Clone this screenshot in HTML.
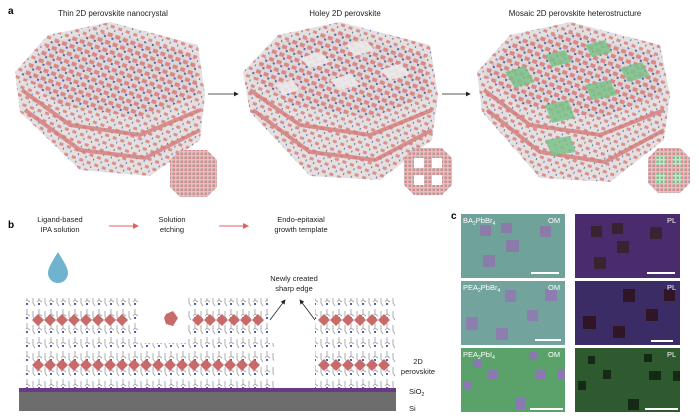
<!DOCTYPE html>
<html><head><meta charset="utf-8"><style>
html,body{margin:0;padding:0;background:#fff;}
svg{display:block;font-family:"Liberation Sans",sans-serif;}
</style></head><body>
<svg width="699" height="419" viewBox="0 0 699 419" xmlns="http://www.w3.org/2000/svg">
<defs>
<pattern id="cr" width="8" height="8" patternUnits="userSpaceOnUse" patternTransform="rotate(20)">
<rect width="8" height="8" fill="#ddd6d6"/>
<rect x="1" y="1" width="5" height="4" fill="#d98584"/>
<rect x="6" y="5" width="2" height="2" fill="#4a5ba8"/>
</pattern>
<pattern id="cr2" width="8" height="8" patternUnits="userSpaceOnUse" patternTransform="rotate(20)">
<rect width="8" height="8" fill="#e4e0e0"/>
<rect x="1" y="1" width="4" height="3" fill="#d99190"/>
<rect x="6" y="5" width="1" height="2" fill="#6270b0"/>
</pattern>
<pattern id="oct" width="4" height="4" patternUnits="userSpaceOnUse">
<rect width="4" height="4" fill="#cfc8c8"/><rect x="0.5" y="0.5" width="2.5" height="2.5" fill="#d88a8a"/>
</pattern>
<pattern id="octg" width="4" height="4" patternUnits="userSpaceOnUse">
<rect width="4" height="4" fill="#cfe0cf"/><rect x="0.5" y="0.5" width="2.5" height="2.5" fill="#7ec08a"/>
</pattern>
<pattern id="lig" width="12" height="14" patternUnits="userSpaceOnUse">
<rect width="12" height="14" fill="#fff"/>
<path d="M3 1 L3 6 L6 8 M3 6 L1 8 M9 3 L9 9 L11 12" stroke="#9a9a9a" stroke-width="0.8" fill="none"/>
<rect x="2" y="9" width="2" height="2" fill="#5060b0"/>
</pattern>
<marker id="ah" markerWidth="6" markerHeight="6" refX="5" refY="3" orient="auto"><path d="M0,0 L6,3 L0,6z" fill="#222"/></marker>
<marker id="ahr" markerWidth="6" markerHeight="6" refX="5" refY="3" orient="auto"><path d="M0,0 L6,3 L0,6z" fill="#e06060"/></marker>
</defs>

<!-- Panel a -->
<text x="8" y="14" font-size="10" font-weight="bold">a</text>
<text x="113" y="16" font-size="8" text-anchor="middle" fill="#222">Thin 2D perovskite nanocrystal</text>
<text x="345" y="16" font-size="8" text-anchor="middle" fill="#222">Holey 2D perovskite</text>
<text x="575" y="16" font-size="8" text-anchor="middle" fill="#222">Mosaic 2D perovskite heterostructure</text>

<!-- crystal 1 -->
<polygon points="15,72 48,35 110,22 198,45 205,95 200,140 150,176 80,170 20,112" fill="url(#cr2)"/>
<polygon points="22,75 50,42 110,32 195,55 198,95 140,118 60,105" fill="url(#cr)" opacity="0.9"/>
<g stroke="#d57b7a" stroke-width="4" fill="none" opacity="0.8">
<polyline points="22,90 70,125 140,135 200,110"/>
<polyline points="25,110 80,150 145,158 200,130"/>
</g>
<!-- crystal 2 -->
<polygon points="243,72 278,35 340,22 430,45 438,95 432,140 380,180 310,176 250,112" fill="url(#cr2)"/>
<polygon points="250,75 280,42 340,32 425,55 430,95 370,118 290,105" fill="url(#cr)" opacity="0.85"/>
<g stroke="#d57b7a" stroke-width="4" fill="none" opacity="0.8">
<polyline points="250,90 300,125 370,135 432,110"/>
<polyline points="253,110 310,152 375,160 432,130"/>
</g>
<g fill="#eceaea" opacity="0.9">
<polygon points="300,58 320,52 330,62 310,68"/>
<polygon points="345,45 365,40 375,50 355,56"/>
<polygon points="380,70 400,64 410,74 390,80"/>
<polygon points="330,80 350,74 360,84 340,90"/>
<polygon points="275,85 292,80 300,90 283,95"/>
</g>
<!-- crystal 3 -->
<polygon points="477,72 510,35 570,22 660,45 670,95 664,140 610,182 540,178 482,112" fill="url(#cr2)"/>
<polygon points="484,75 512,42 570,32 655,55 662,95 600,118 520,105" fill="url(#cr)" opacity="0.9"/>
<g stroke="#d57b7a" stroke-width="4" fill="none" opacity="0.8">
<polyline points="484,90 530,125 600,135 664,110"/>
<polyline points="487,110 540,152 605,162 664,130"/>
</g>
<g fill="#7cc28a" opacity="0.85">
<polygon points="585,45 605,40 612,52 592,57"/>
<polygon points="545,55 565,50 572,62 552,67"/>
<polygon points="620,68 642,62 650,76 628,82"/>
<polygon points="505,72 525,66 535,82 515,88"/>
<polygon points="585,85 610,80 617,95 592,100"/>
<polygon points="545,105 568,100 575,118 552,123"/>
<polygon points="545,140 570,136 576,152 552,156"/>
</g>
<!-- insets -->
<polygon points="180,150 207,150 217,160 217,187 207,197 180,197 170,187 170,160" fill="url(#oct)"/>
<polygon points="414,148 442,148 452,158 452,185 442,195 414,195 404,185 404,158" fill="url(#oct)"/>
<g fill="#fff"><rect x="414" y="158" width="10" height="10"/><rect x="432" y="158" width="10" height="10"/><rect x="414" y="175" width="10" height="10"/><rect x="432" y="175" width="10" height="10"/></g>
<polygon points="658,148 680,148 690,158 690,183 680,193 658,193 648,183 648,158" fill="url(#oct)"/>
<g fill="url(#octg)"><rect x="656" y="156" width="9" height="9"/><rect x="673" y="156" width="9" height="9"/><rect x="656" y="174" width="9" height="9"/><rect x="673" y="174" width="9" height="9"/></g>
<!-- arrows -->
<line x1="208" y1="94" x2="238" y2="94" stroke="#222" stroke-width="0.8" marker-end="url(#ah)"/>
<line x1="442" y1="94" x2="470" y2="94" stroke="#222" stroke-width="0.8" marker-end="url(#ah)"/>

<!-- Panel b -->
<text x="8" y="228" font-size="10" font-weight="bold">b</text>
<text x="60" y="222" font-size="7.5" text-anchor="middle" fill="#222">Ligand-based</text>
<text x="60" y="232" font-size="7.5" text-anchor="middle" fill="#222">IPA solution</text>
<text x="172" y="222" font-size="7.5" text-anchor="middle" fill="#222">Solution</text>
<text x="172" y="232" font-size="7.5" text-anchor="middle" fill="#222">etching</text>
<text x="301" y="222" font-size="7.5" text-anchor="middle" fill="#222">Endo-epitaxial</text>
<text x="301" y="232" font-size="7.5" text-anchor="middle" fill="#222">growth template</text>
<line x1="109" y1="226" x2="138" y2="226" stroke="#e06060" stroke-width="1" marker-end="url(#ahr)"/>
<line x1="219" y1="226" x2="248" y2="226" stroke="#e06060" stroke-width="1" marker-end="url(#ahr)"/>
<path d="M58,252 C52,262 48,268 48,273 A10,10 0 0 0 68,273 C68,268 64,262 58,252Z" fill="#6fb3cf"/>

<text x="294" y="281" font-size="7.5" text-anchor="middle" fill="#222">Newly created</text>
<text x="294" y="291" font-size="7.5" text-anchor="middle" fill="#222">sharp edge</text>
<line x1="270" y1="320" x2="285" y2="300" stroke="#222" stroke-width="0.8" marker-end="url(#ah)"/>
<line x1="315" y1="320" x2="300" y2="300" stroke="#222" stroke-width="0.8" marker-end="url(#ah)"/>

<rect x="26" y="298" width="112" height="45" fill="url(#lig)"/>
<rect x="188" y="298" width="80" height="45" fill="url(#lig)"/>
<rect x="26" y="343" width="248" height="45" fill="url(#lig)"/>
<rect x="315" y="298" width="82" height="90" fill="url(#lig)"/>
<g fill="#c96a6a">
<path d="M32 320l6-6 6 6-6 6z M44 320l6-6 6 6-6 6z M56 320l6-6 6 6-6 6z M68 320l6-6 6 6-6 6z M80 320l6-6 6 6-6 6z M92 320l6-6 6 6-6 6z M104 320l6-6 6 6-6 6z M116 320l6-6 6 6-6 6z"/>
<path d="M192 320l6-6 6 6-6 6z M204 320l6-6 6 6-6 6z M216 320l6-6 6 6-6 6z M228 320l6-6 6 6-6 6z M240 320l6-6 6 6-6 6z M252 320l6-6 6 6-6 6z"/>
<path d="M318 320l6-6 6 6-6 6z M330 320l6-6 6 6-6 6z M342 320l6-6 6 6-6 6z M354 320l6-6 6 6-6 6z M366 320l6-6 6 6-6 6z M378 320l6-6 6 6-6 6z"/>
<path d="M32 365l6-6 6 6-6 6z M44 365l6-6 6 6-6 6z M56 365l6-6 6 6-6 6z M68 365l6-6 6 6-6 6z M80 365l6-6 6 6-6 6z M92 365l6-6 6 6-6 6z M104 365l6-6 6 6-6 6z M116 365l6-6 6 6-6 6z M128 365l6-6 6 6-6 6z M140 365l6-6 6 6-6 6z M152 365l6-6 6 6-6 6z M164 365l6-6 6 6-6 6z M176 365l6-6 6 6-6 6z M188 365l6-6 6 6-6 6z M200 365l6-6 6 6-6 6z M212 365l6-6 6 6-6 6z M224 365l6-6 6 6-6 6z M236 365l6-6 6 6-6 6z M248 365l6-6 6 6-6 6z"/>
<path d="M318 365l6-6 6 6-6 6z M330 365l6-6 6 6-6 6z M342 365l6-6 6 6-6 6z M354 365l6-6 6 6-6 6z M366 365l6-6 6 6-6 6z M378 365l6-6 6 6-6 6z"/>
<polygon points="166,314 173,311 178,318 173,326 166,324 164,318"/>
</g>
<rect x="19" y="388" width="377" height="4" fill="#6a3a8a"/>
<rect x="19" y="392" width="377" height="19" fill="#6d6d6d"/>
<text x="418" y="364" font-size="7.5" text-anchor="middle" fill="#222">2D</text>
<text x="418" y="374" font-size="7.5" text-anchor="middle" fill="#222">perovskite</text>
<text x="409" y="394" font-size="7.5" fill="#222">SiO<tspan font-size="5" dy="2">2</tspan></text>
<text x="409" y="411" font-size="7.5" fill="#222">Si</text>

<!-- Panel c -->
<text x="451" y="219" font-size="10" font-weight="bold">c</text>
<rect x="461" y="214" width="104" height="64" fill="#6fa39a"/>
<g fill="#8a7ba8"><rect x="480" y="225" width="11" height="11"/><rect x="501" y="223" width="11" height="10"/><rect x="540" y="226" width="11" height="11"/><rect x="506" y="240" width="13" height="12"/><rect x="483" y="255" width="12" height="12"/></g>
<rect x="575" y="214" width="105" height="64" fill="#4a2c6e"/>
<g fill="#3a2230"><rect x="591" y="226" width="11" height="11"/><rect x="612" y="223" width="11" height="11"/><rect x="650" y="227" width="12" height="12"/><rect x="617" y="241" width="12" height="12"/><rect x="594" y="257" width="12" height="12"/></g>
<rect x="461" y="281" width="104" height="64" fill="#72a39d"/>
<g fill="#8c7fb0"><rect x="505" y="290" width="11" height="12"/><rect x="545" y="289" width="12" height="12"/><rect x="527" y="310" width="11" height="11"/><rect x="466" y="317" width="12" height="13"/><rect x="496" y="328" width="12" height="12"/></g>
<rect x="575" y="281" width="105" height="64" fill="#3b2c66"/>
<g fill="#301525"><rect x="623" y="289" width="12" height="13"/><rect x="664" y="289" width="11" height="12"/><rect x="646" y="309" width="12" height="12"/><rect x="583" y="316" width="13" height="13"/><rect x="613" y="326" width="12" height="12"/></g>
<rect x="461" y="348" width="104" height="64" fill="#5aa26a"/>
<g fill="#8a78b0"><rect x="473" y="360" width="8" height="8"/><rect x="529" y="352" width="8" height="8"/><rect x="488" y="370" width="9" height="9"/><rect x="535" y="370" width="11" height="9"/><rect x="464" y="381" width="7" height="9"/><rect x="515" y="398" width="11" height="11"/><rect x="558" y="369" width="7" height="10"/></g>
<rect x="575" y="348" width="105" height="64" fill="#2f5a30"/>
<g fill="#142a14"><rect x="588" y="356" width="7" height="8"/><rect x="644" y="354" width="8" height="8"/><rect x="603" y="370" width="8" height="9"/><rect x="649" y="371" width="12" height="9"/><rect x="578" y="381" width="8" height="9"/><rect x="628" y="399" width="11" height="11"/><rect x="673" y="371" width="7" height="10"/></g>
<g fill="#fff" font-size="7.5">
<text x="463" y="223">BA<tspan font-size="5" dy="2">2</tspan><tspan dy="-2">PbBr</tspan><tspan font-size="5" dy="2">4</tspan></text>
<text x="548" y="223">OM</text><text x="667" y="223">PL</text>
<text x="463" y="290">PEA<tspan font-size="5" dy="2">2</tspan><tspan dy="-2">PbBr</tspan><tspan font-size="5" dy="2">4</tspan></text>
<text x="548" y="290">OM</text><text x="667" y="290">PL</text>
<text x="463" y="357">PEA<tspan font-size="5" dy="2">2</tspan><tspan dy="-2">PbI</tspan><tspan font-size="5" dy="2">4</tspan></text>
<text x="548" y="357">OM</text><text x="667" y="357">PL</text>
</g>
<g fill="#fff"><rect x="531" y="272" width="28" height="2"/><rect x="647" y="272" width="28" height="2"/><rect x="535" y="339" width="26" height="2"/><rect x="651" y="340" width="22" height="2"/><rect x="530" y="408" width="33" height="2"/><rect x="645" y="408" width="33" height="2"/></g>
</svg>
</body></html>
